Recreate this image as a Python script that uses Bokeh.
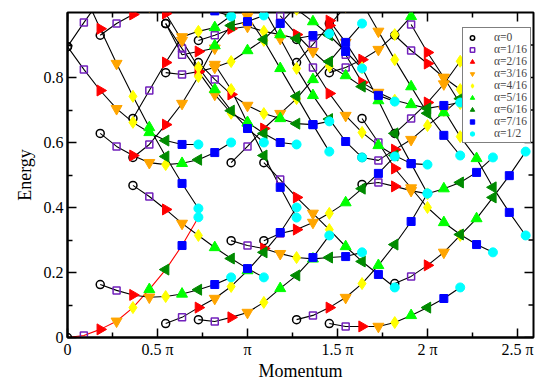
import math
from bokeh.plotting import figure
from bokeh.models import ColumnDataSource, FixedTicker, Legend, LegendItem
from bokeh.embed import file_html
from bokeh.resources import INLINE

# ---------------- data ----------------
# Momentum of a level: P = 2*pi*(I + 8*alpha)/11, alpha = j/16  ->  x (units of pi) = (2I + j)/11
alpha_labels = ["α=0", "α=1/16", "α=2/16", "α=3/16", "α=4/16", "α=5/16", "α=6/16", "α=7/16", "α=1/2"]
x_tick_vals = [0, 0.5, 1, 1.5, 2, 2.5]
x_tick_text = ["0", "0.5 π", "π", "1.5 π", "2 π", "2.5 π"]
x_minor_vals = [0.25, 0.75, 1.25, 1.75, 2.25]
y_tick_vals = [0, 0.2, 0.4, 0.6, 0.8]
y_minor_vals = [0.1, 0.3, 0.5, 0.7, 0.9]

# energies along each branch (alpha index starts at j0)
I0_a = [0.000, 0.006, 0.025, 0.050, 0.092, 0.148, 0.209, 0.283, 0.370]
I0_b = [0.895, 0.825, 0.760, 0.704, 0.662, 0.631, 0.606, 0.594, 0.594]
I0_c = [0.895, 0.969, 1.040]
I0_d = [1.060, 0.950, 0.843, 0.742, 0.646, 0.557, 0.474, 0.397]
I1_a = [0.163, 0.145, 0.131, 0.124, 0.126, 0.134, 0.147, 0.163, 0.185]
I1_b = [0.628, 0.588, 0.560, 0.538, 0.532, 0.536, 0.547, 0.569, 0.600]
I1_c = [0.930, 0.966, 0.994, 1.020, 1.035, 1.035, 1.025, 1.005, 0.988]
I2_a = [0.468, 0.434, 0.394, 0.351, 0.314, 0.277, 0.243, 0.212, 0.185]
I2_b = [0.554, 0.594, 0.655, 0.720, 0.803, 0.898, 0.960, 0.972, 0.991]
I2_c = [0.674, 0.760, 0.846, 0.925, 0.942, 0.954, 0.990, 1.030]
I2_d = [1.080, 0.997, 0.914, 0.831, 0.763, 0.698, 0.643, 0.600]
I3_a = [0.043, 0.062, 0.092, 0.120, 0.157, 0.206, 0.262, 0.323, 0.400]
I3_b = [0.815, 0.809, 0.818, 0.831, 0.849, 0.883, 0.917, 0.966, 1.020]
I3_c = [0.966, 0.889, 0.818, 0.748, 0.690, 0.662, 0.628, 0.600, 0.594]
I3_d = [0.840, 0.763, 0.660, 0.560, 0.462, 0.369]
I3_e = [0.966, 0.870, 0.880, 0.890]
I4_a = [0.055, 0.049, 0.062, 0.077, 0.108, 0.151, 0.191, 0.246, 0.314]
I4_b = [0.846, 0.794, 0.748, 0.714, 0.689, 0.674, 0.658, 0.655, 0.665]
I4_c = [0.914, 0.930, 0.950, 0.957, 0.942, 0.932, 0.920, 0.929, 0.935]
I4_d = [1.060, 0.988, 0.914, 0.828, 0.742, 0.655, 0.572]
I5_a = [0.298, 0.283, 0.274, 0.258, 0.246, 0.242, 0.246, 0.249, 0.262]
I5_b = [0.538, 0.588, 0.643, 0.689, 0.735, 0.794, 0.849, 0.908, 0.966]
I5_c = [1.010, 0.920, 0.828, 0.745, 0.672, 0.603, 0.554]
I5_d = [1.010, 0.972, 0.930, 0.880, 0.828]
I6_a = [0.298, 0.320, 0.332, 0.354, 0.382, 0.415, 0.458, 0.505, 0.557]
I6_b = [0.538, 0.486, 0.431, 0.382, 0.332, 0.280, 0.234, 0.194, 0.154]
I6_c = [0.990, 0.932, 0.880, 0.835, 0.806, 0.772, 0.745, 0.726]
I7_a = [0.055, 0.068, 0.092, 0.123, 0.166, 0.222, 0.286, 0.357, 0.443]
I7_b = [0.846, 0.902, 0.960, 1.020]
I7_c = [0.917, 0.831, 0.751, 0.683, 0.631, 0.591, 0.560, 0.535, 0.532]
I7_d = [0.975, 0.908, 0.830, 0.729, 0.628, 0.535, 0.443]
I8_a = [0.043, 0.034, 0.034, 0.034, 0.046, 0.068, 0.092, 0.120, 0.154]
I8_b = [0.815, 0.831, 0.855, 0.886, 0.932, 0.988, 1.050]
I8_c = [0.966, 0.870, 0.785, 0.754, 0.730, 0.717, 0.705, 0.714, 0.723]
I8_d = [1.030, 0.942, 0.855, 0.772, 0.690, 0.622, 0.560]
I9_a = [0.471, 0.477, 0.465, 0.452, 0.442, 0.458, 0.477, 0.508, 0.554]
I9_b = [0.674, 0.600, 0.520, 0.460, 0.400, 0.354, 0.317, 0.286, 0.262]
I9_c = [0.554, 0.545, 0.578, 0.609, 0.652, 0.692, 0.735, 0.780, 0.830]
I10_a = [0.166, 0.188, 0.222, 0.262, 0.314, 0.366, 0.431, 0.498, 0.572]
I10_b = [0.930, 0.883, 0.843, 0.800, 0.763, 0.725, 0.690]
I10_c = [0.628, 0.674, 0.723, 0.780, 0.850]
I10_d = [0.963, 0.877, 0.800, 0.720]
I10_e = [0.700, 0.618, 0.551, 0.462, 0.385, 0.314]

# (momentum index I, first alpha index j0, energies, line colour)
branches = [
    (0, 0, I0_a, "red"), (0, 0, I0_b, "black"), (0, 0, I0_c, "black"), (0, 1, I0_d, "black"),
    (1, 0, I1_a, "black"), (1, 0, I1_b, "black"), (1, 0, I1_c, "black"),
    (2, 0, I2_a, "black"), (2, 0, I2_b, "black"), (2, 0, I2_c, "black"), (2, 1, I2_d, "black"),
    (3, 0, I3_a, "black"), (3, 0, I3_b, "black"), (3, 0, I3_c, "black"), (3, 3, I3_d, "black"),
    (3, 0, I3_e, "black"),
    (4, 0, I4_a, "black"), (4, 0, I4_b, "black"), (4, 0, I4_c, "black"), (4, 2, I4_d, "black"),
    (5, 0, I5_a, "black"), (5, 0, I5_b, "black"), (5, 2, I5_c, "black"), (5, 4, I5_d, "black"),
    (6, 0, I6_a, "black"), (6, 0, I6_b, "black"), (6, 1, I6_c, "black"),
    (7, 0, I7_a, "black"), (7, 0, I7_b, "black"), (7, 0, I7_c, "black"), (7, 2, I7_d, "black"),
    (8, 0, I8_a, "black"), (8, 0, I8_b, "black"), (8, 0, I8_c, "black"), (8, 2, I8_d, "black"),
    (9, 0, I9_a, "black"), (9, 0, I9_b, "black"), (9, 0, I9_c, "black"),
    (10, 0, I10_a, "black"), (10, 0, I10_b, "black"), (10, 0, I10_c, "black"), (10, 1, I10_d, "black"),
    (10, 3, I10_e, "black"),
]

X_MAX, Y_MAX = 2.589, 1.0

# ---------------- figure ----------------
SERIF = "Liberation Serif"
p = figure(width=546, height=383, x_range=(0, X_MAX), y_range=(0, Y_MAX),
           output_backend="svg", toolbar_location=None,
           min_border_left=67, min_border_right=13, min_border_top=12, min_border_bottom=46,
           x_axis_label="Momentum", y_axis_label="Energy")
p.grid.visible = False
p.outline_line_color = "black"
p.outline_line_width = 2
p.background_fill_color = "white"

p.xaxis.ticker = FixedTicker(ticks=x_tick_vals, minor_ticks=x_minor_vals)
p.yaxis.ticker = FixedTicker(ticks=y_tick_vals, minor_ticks=y_minor_vals)
p.xaxis.major_label_overrides = {v: t for v, t in zip(x_tick_vals, x_tick_text)}
p.yaxis.major_label_overrides = {0: "0"}
for ax in (p.xaxis[0], p.yaxis[0]):
    ax.axis_line_width = 2
    ax.major_tick_in = 9
    ax.major_tick_out = 0
    ax.minor_tick_in = 5
    ax.minor_tick_out = 0
    ax.major_tick_line_width = 1.5
    ax.minor_tick_line_width = 1.5
    ax.major_label_text_font = SERIF
    ax.major_label_text_font_size = "16px"
    ax.major_label_text_color = "black"
    ax.axis_label_text_font = SERIF
    ax.axis_label_text_font_size = "18px"
    ax.axis_label_text_font_style = "normal"
    ax.axis_label_text_color = "black"
p.xaxis.major_label_standoff = 3
p.xaxis.axis_label_standoff = 0
p.yaxis.major_label_standoff = 4
p.yaxis.axis_label_standoff = 6

# inward ticks on the top and right edges of the frame
p.ray(x=x_tick_vals, y=[Y_MAX] * len(x_tick_vals), length=9, angle=-math.pi / 2,
      length_units="screen", line_color="black", line_width=1.5)
p.ray(x=x_minor_vals, y=[Y_MAX] * len(x_minor_vals), length=5, angle=-math.pi / 2,
      length_units="screen", line_color="black", line_width=1.5)
p.ray(x=[X_MAX] * len(y_tick_vals), y=y_tick_vals, length=9, angle=math.pi,
      length_units="screen", line_color="black", line_width=1.5)
p.ray(x=[X_MAX] * len(y_minor_vals), y=y_minor_vals, length=5, angle=math.pi,
      length_units="screen", line_color="black", line_width=1.5)

# lines
for I, j0, ev, col in branches:
    xs = [(2 * I + j0 + k) / 11 for k in range(len(ev))]
    p.line(xs, ev, line_color=col, line_width=1.1)

# markers grouped by alpha
mk = [
    dict(marker="circle", size=8, fill_color=None, line_color="black", line_width=1.5, angle=0),
    dict(marker="square", size=7, fill_color=None, line_color="#7221bc", line_width=1.5, angle=0),
    dict(marker="triangle", size=11, fill_color="red", line_color="red", line_width=1, angle=-math.pi / 2),
    dict(marker="inverted_triangle", size=11, fill_color="#ffa500", line_color="#ffa500", line_width=1, angle=0),
    dict(marker="diamond", size=12, fill_color="yellow", line_color="yellow", line_width=1, angle=0),
    dict(marker="triangle", size=11, fill_color="#00ff00", line_color="#00ff00", line_width=1, angle=0),
    dict(marker="triangle", size=11, fill_color="#008b00", line_color="#008b00", line_width=1, angle=math.pi / 2),
    dict(marker="square", size=8, fill_color="blue", line_color="blue", line_width=1, angle=0),
    dict(marker="circle", size=9, fill_color="cyan", line_color="cyan", line_width=1, angle=0),
]

items = []
for j in range(9):
    xs, ys = [], []
    for I, j0, ev, col in branches:
        k = j - j0
        if 0 <= k < len(ev):
            xs.append((2 * I + j) / 11)
            ys.append(ev[k])
    src = ColumnDataSource(dict(x=xs, y=ys))
    r = p.scatter("x", "y", source=src, **mk[j])
    items.append(LegendItem(label=alpha_labels[j], renderers=[r]))

leg = Legend(items=items, location=(395, 194))
leg.label_text_font = SERIF
leg.label_text_font_size = "11.5px"
leg.label_height = 11
leg.glyph_height = 11
leg.glyph_width = 12
leg.label_standoff = 16
leg.spacing = 0
leg.padding = 3
leg.margin = 0
leg.border_line_color = "black"
leg.border_line_width = 1
leg.background_fill_alpha = 1
p.add_layout(leg)

open("out.html", "w").write(file_html(p, INLINE))
